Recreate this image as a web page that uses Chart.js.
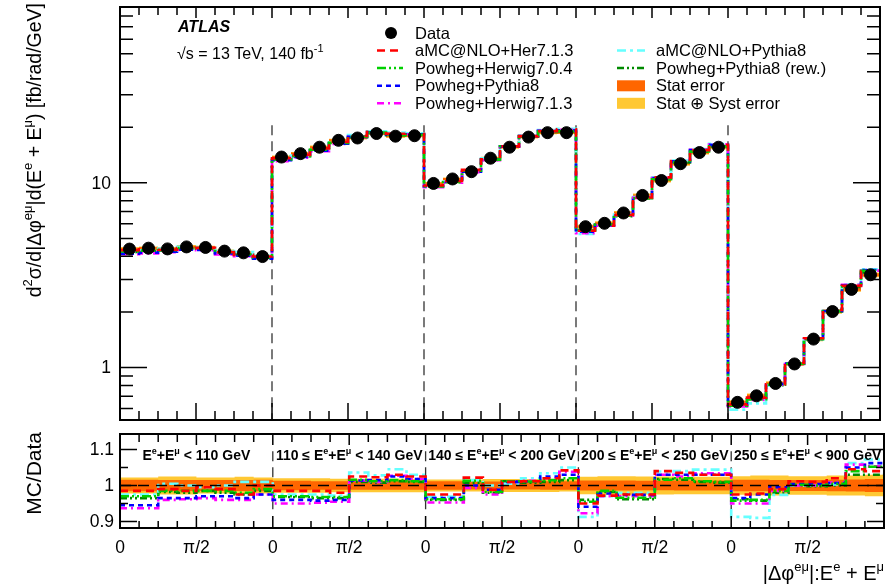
<!DOCTYPE html>
<html>
<head>
<meta charset="utf-8">
<script src="https://cdn.jsdelivr.net/npm/chart.js@4.4.1/dist/chart.umd.min.js"></script>
<style>
  body { margin: 0; background: #fff; }
  #wrap { position: relative; width: 887px; height: 586px; }
  #main { position: absolute; left: 0; top: 0; }
  #ratio { position: absolute; left: 0; top: 430px; }
</style>
</head>
<body>
<div id="wrap">
  <canvas id="main" width="887" height="430"></canvas>
  <canvas id="ratio" width="887" height="156"></canvas>
</div>
<script>
// slices in Ee+Emu, 8 |dphi| bins (0..pi) in each
var energyLow  = [null, 110, 140, 200, 250];
var energyHigh = [110, 140, 200, 250, 900];
var binsPerSlice = 8;
var phiTickLabels = ["0", "π/2"];
var mainYLabels = [1, 10];
var ratioYLabels = [0.9, 1, 1.1];

// measured cross section [fb/rad/GeV]
var dataXsec = [
  4.38, 4.43, 4.39, 4.50, 4.47, 4.27, 4.18, 3.99,
  13.8, 14.4, 15.6, 17.0, 17.5, 18.5, 17.9, 18.0,
  9.93, 10.5, 11.5, 13.6, 15.6, 17.7, 18.7, 18.7,
  5.79, 6.04, 6.87, 8.55, 10.3, 12.7, 14.6, 15.6,
  0.648, 0.703, 0.820, 1.046, 1.426, 2.01, 2.65, 3.18
];
// relative uncertainties
var statErr = [
  0.016, 0.016, 0.015, 0.015, 0.015, 0.015, 0.015, 0.016,
  0.013, 0.013, 0.012, 0.012, 0.012, 0.012, 0.012, 0.012,
  0.012, 0.012, 0.011, 0.011, 0.011, 0.011, 0.012, 0.012,
  0.014, 0.014, 0.014, 0.013, 0.013, 0.014, 0.014, 0.014,
  0.016, 0.016, 0.015, 0.015, 0.015, 0.016, 0.017, 0.018
];
var totErr = [
  0.022, 0.022, 0.025, 0.025, 0.022, 0.022, 0.024, 0.022,
  0.020, 0.020, 0.020, 0.019, 0.019, 0.019, 0.019, 0.019,
  0.017, 0.017, 0.017, 0.018, 0.018, 0.018, 0.018, 0.017,
  0.024, 0.026, 0.026, 0.025, 0.025, 0.024, 0.024, 0.024,
  0.026, 0.028, 0.028, 0.026, 0.026, 0.028, 0.028, 0.030
];

// MC / Data
var ratioAmcHer713 = [
  0.985, 0.985, 0.990, 0.985, 0.995, 0.990, 0.975, 1.000,
  0.985, 0.985, 0.985, 0.980, 1.025, 1.023, 1.030, 1.025,
  0.975, 0.975, 1.022, 0.988, 1.010, 1.012, 1.020, 1.042,
  0.950, 0.972, 0.975, 0.975, 1.040, 1.035, 1.030, 1.030,
  0.975, 0.978, 0.990, 1.012, 1.010, 1.020, 1.045, 1.040
];
var ratioPowHer704 = [
  0.970, 0.970, 0.985, 0.985, 0.985, 0.985, 0.980, 0.990,
  0.970, 0.970, 0.968, 0.968, 1.016, 1.012, 1.015, 1.012,
  0.962, 0.962, 1.013, 0.982, 1.012, 1.011, 1.015, 1.020,
  0.955, 0.985, 0.966, 0.966, 1.016, 1.020, 1.012, 1.010,
  0.958, 0.960, 0.985, 1.002, 1.000, 1.005, 1.040, 1.052
];
var ratioPowPy8 = [
  0.945, 0.945, 0.965, 0.965, 0.970, 0.970, 0.965, 0.975,
  0.960, 0.960, 0.958, 0.960, 1.014, 1.015, 1.025, 1.018,
  0.965, 0.965, 1.000, 0.988, 1.010, 1.012, 1.025, 1.030,
  0.941, 0.978, 0.974, 0.974, 1.030, 1.030, 1.030, 1.030,
  0.965, 0.975, 0.995, 1.004, 1.004, 1.007, 1.050, 1.062
];
var ratioPowHer713 = [
  0.937, 0.937, 0.960, 0.962, 0.965, 0.960, 0.960, 0.975,
  0.950, 0.950, 0.952, 0.955, 1.014, 1.010, 1.027, 1.018,
  0.953, 0.953, 0.993, 0.975, 1.010, 1.013, 1.020, 1.038,
  0.923, 0.970, 0.970, 0.970, 1.030, 1.025, 1.034, 1.034,
  0.950, 0.950, 0.985, 1.000, 1.000, 1.008, 1.058, 1.053
];
var ratioAmcPy8 = [
  0.975, 0.975, 1.005, 1.000, 0.995, 1.000, 1.010, 1.010,
  0.975, 0.975, 0.975, 0.972, 1.036, 1.028, 1.045, 1.030,
  0.969, 0.969, 1.015, 1.000, 1.005, 1.020, 1.034, 1.050,
  0.913, 0.970, 0.980, 0.980, 1.039, 1.040, 1.044, 1.044,
  0.913, 0.910, 0.974, 1.000, 1.000, 1.003, 1.062, 1.072
];
var ratioPowPy8Rew = [
  0.965, 0.965, 0.982, 0.980, 0.985, 0.980, 0.975, 0.985,
  0.968, 0.968, 0.965, 0.965, 1.010, 1.008, 1.012, 1.010,
  0.960, 0.960, 1.008, 0.980, 1.012, 1.008, 1.010, 1.015,
  0.960, 0.982, 0.962, 0.962, 1.018, 1.016, 1.010, 1.008,
  0.962, 0.958, 0.980, 1.000, 0.998, 1.000, 1.030, 1.030
];

var FONT = '"Liberation Sans", Arial, Helvetica, sans-serif';
var nBins = dataXsec.length;

var models = [
  { label: "aMC@NLO+Her7.1.3",      ratio: ratioAmcHer713, color: "#ff0000", dash: [8, 5] },
  { label: "Powheg+Herwig7.0.4",    ratio: ratioPowHer704, color: "#00d000", dash: [9, 3, 2, 3, 2, 3] },
  { label: "Powheg+Pythia8",        ratio: ratioPowPy8,    color: "#0000ff", dash: [5, 4] },
  { label: "Powheg+Herwig7.1.3",    ratio: ratioPowHer713, color: "#ff00ff", dash: [7, 4, 2, 4] },
  { label: "aMC@NLO+Pythia8",       ratio: ratioAmcPy8,    color: "#66ffff", dash: [9, 4, 3, 4] },
  { label: "Powheg+Pythia8 (rew.)", ratio: ratioPowPy8Rew, color: "#008a00", dash: [7, 3, 2, 3, 2, 3] }
];
var statColor = "#ff6600", totColor = "#ffc833";

// histogram as step: two points per bin at its edges
function steps(vals) {
  var pts = [];
  for (var i = 0; i < vals.length; i++) {
    pts.push({ x: i, y: vals[i] });
    pts.push({ x: i + 1, y: vals[i] });
  }
  return pts;
}

function richParts(str) {
  var parts = [], re = /\^\{([^}]*)\}/g, last = 0, m;
  while ((m = re.exec(str))) {
    if (m.index > last) parts.push([str.slice(last, m.index), false]);
    parts.push([m[1], true]);
    last = re.lastIndex;
  }
  if (last < str.length) parts.push([str.slice(last), false]);
  return parts;
}

function drawRich(ctx, str, x, y, size, weight, align) {
  var parts = richParts(str), w = 0;
  var fnt = function(sup) { return weight + " " + (sup ? Math.round(size * 0.66) : size) + "px " + FONT; };
  parts.forEach(function(p) { ctx.font = fnt(p[1]); p.w = ctx.measureText(p[0]).width; w += p.w; });
  var cx = align === "right" ? x - w : (align === "center" ? x - w / 2 : x);
  ctx.textAlign = "left";
  ctx.textBaseline = "alphabetic";
  parts.forEach(function(p) {
    ctx.font = fnt(p[1]);
    ctx.fillText(p[0], cx, p[1] ? y - size * 0.45 : y);
    cx += p.w;
  });
}

// ROOT-like frame with ticks pointing inwards, plus y tick labels
function drawFrame(chart, cfg) {
  var ctx = chart.ctx, a = chart.chartArea, xs = chart.scales.x, ys = chart.scales.y;
  ctx.save();
  ctx.strokeStyle = "#000";
  ctx.lineWidth = 1.5;
  ctx.beginPath();
  for (var i = 0; i <= nBins; i++) {
    var px = xs.getPixelForValue(i);
    var big = i % 4 === 0;
    ctx.moveTo(px, a.bottom); ctx.lineTo(px, a.bottom - (big ? cfg.xMajor : cfg.xMinor));
    ctx.moveTo(px, a.top); ctx.lineTo(px, a.top + (big ? cfg.xTopMajor : cfg.xTopMinor));
  }
  cfg.yTicks.forEach(function(t) {
    var py = ys.getPixelForValue(t[0]);
    var L = t[1] ? cfg.yMajor : cfg.yMinor;
    ctx.moveTo(a.left, py); ctx.lineTo(a.left + L, py);
    ctx.moveTo(a.right, py); ctx.lineTo(a.right - L, py);
  });
  ctx.stroke();
  ctx.lineWidth = 2;
  ctx.strokeRect(a.left, a.top, a.right - a.left, a.bottom - a.top);
  ctx.fillStyle = "#000";
  ctx.font = "17.5px " + FONT;
  ctx.textAlign = "right";
  ctx.textBaseline = "middle";
  cfg.labels.forEach(function(v) {
    ctx.fillText(String(v), cfg.labelX, ys.getPixelForValue(v) + 1);
  });
  ctx.restore();
}

function drawSliceLines(chart, y0, y1) {
  var ctx = chart.ctx, xs = chart.scales.x, ys = chart.scales.y;
  ctx.save();
  ctx.strokeStyle = "#333";
  ctx.lineWidth = 1.3;
  ctx.setLineDash([10, 6]);
  for (var s = 1; s < energyHigh.length; s++) {
    var px = xs.getPixelForValue(s * binsPerSlice);
    ctx.beginPath();
    ctx.moveTo(px, ys.getPixelForValue(y1));
    ctx.lineTo(px, ys.getPixelForValue(y0));
    ctx.stroke();
  }
  ctx.restore();
}

var mainTicks = [];
[0.6, 0.7, 0.8, 0.9, 1, 2, 3, 4, 5, 6, 7, 8, 9, 10, 20, 30, 40, 50, 60, 70, 80].forEach(function(v) {
  mainTicks.push([v, v === 1 || v === 10]);
});

// ---------- upper panel ----------
var mainSets = [];
mainSets.push({
  label: "Data", type: "scatter",
  data: dataXsec.map(function(v, i) { return { x: i + 0.5, y: v }; }),
  pointRadius: 6, pointBackgroundColor: "#000", pointBorderColor: "#000", showLine: false
});
models.forEach(function(m) {
  mainSets.push({
    label: m.label,
    data: steps(dataXsec.map(function(v, i) { return v * m.ratio[i]; })),
    borderColor: m.color, borderWidth: 2.6, borderDash: m.dash,
    pointRadius: 0, fill: false, tension: 0
  });
});
mainSets.push({ label: "Stat error", data: steps(dataXsec.map(function(v, i) { return v * (1 + statErr[i]); })),
  borderWidth: 0, pointRadius: 0, backgroundColor: statColor, fill: "+1" });
mainSets.push({ label: "", data: steps(dataXsec.map(function(v, i) { return v * (1 - statErr[i]); })),
  borderWidth: 0, pointRadius: 0, fill: false });
mainSets.push({ label: "Stat ⊕ Syst error", data: steps(dataXsec.map(function(v, i) { return v * (1 + totErr[i]); })),
  borderWidth: 0, pointRadius: 0, backgroundColor: totColor, fill: "+1" });
mainSets.push({ label: "", data: steps(dataXsec.map(function(v, i) { return v * (1 - totErr[i]); })),
  borderWidth: 0, pointRadius: 0, fill: false });

var mainDecor = {
  id: "mainDecor",
  beforeDatasetsDraw: function(chart) { drawSliceLines(chart, 0.52, 20.5); },
  afterDraw: function(chart) {
    var ctx = chart.ctx;
    drawFrame(chart, { xMajor: 17, xMinor: 9, xTopMajor: 11, xTopMinor: 8, yMajor: 27, yMinor: 13,
      yTicks: mainTicks, labels: mainYLabels, labelX: 111 });
    ctx.save();
    ctx.fillStyle = "#000";
    drawRich(ctx, "ATLAS", 178, 31.5, 16, "italic bold", "left");
    drawRich(ctx, "√s = 13 TeV, 140 fb^{-1}", 177, 59, 16, "normal", "left");

    // legend
    var rows = [33, 50.5, 68, 85.8, 103.3];
    var c1 = { x0: 377, x1: 403, tx: 415 }, c2 = { x0: 617, x1: 645, tx: 656 };
    var items = [
      { col: c1, row: 0, kind: "dot", ds: mainSets[0] },
      { col: c1, row: 1, kind: "line", m: models[0] },
      { col: c1, row: 2, kind: "line", m: models[1] },
      { col: c1, row: 3, kind: "line", m: models[2] },
      { col: c1, row: 4, kind: "line", m: models[3] },
      { col: c2, row: 1, kind: "line", m: models[4] },
      { col: c2, row: 2, kind: "line", m: models[5] },
      { col: c2, row: 3, kind: "box", color: statColor, text: mainSets[7].label },
      { col: c2, row: 4, kind: "box", color: totColor, text: mainSets[9].label }
    ];
    items.forEach(function(it) {
      var y = rows[it.row], text;
      if (it.kind === "dot") {
        ctx.beginPath(); ctx.arc((it.col.x0 + it.col.x1) / 2 + 1, y, 6, 0, 2 * Math.PI); ctx.fill();
        text = it.ds.label;
      } else if (it.kind === "line") {
        ctx.save();
        ctx.strokeStyle = it.m.color; ctx.lineWidth = 2.6; ctx.setLineDash(it.m.dash);
        ctx.beginPath(); ctx.moveTo(it.col.x0, y); ctx.lineTo(it.col.x1, y); ctx.stroke();
        ctx.restore();
        text = it.m.label;
      } else {
        ctx.save(); ctx.fillStyle = it.color;
        ctx.fillRect(it.col.x0, y - 5.5, it.col.x1 - it.col.x0, 11);
        ctx.restore();
        text = it.text;
      }
      ctx.font = "16.5px " + FONT; ctx.textAlign = "left"; ctx.textBaseline = "middle";
      ctx.fillText(text, it.col.tx, y + 1);
    });

    // y title
    ctx.translate(41, 3);
    ctx.rotate(-Math.PI / 2);
    drawRich(ctx, "d^{2}σ/d|Δφ^{eμ}|d(E^{e} + E^{μ}) [fb/rad/GeV]", 0, 0, 19.5, "normal", "right");
    ctx.restore();
  }
};

new Chart(document.getElementById("main"), {
  type: "line",
  data: { datasets: mainSets },
  options: {
    responsive: false, animation: false, events: [],
    layout: { padding: { left: 0, right: 3, top: 5, bottom: 0 } },
    plugins: { legend: { display: false }, tooltip: { enabled: false } },
    scales: {
      x: {
        type: "linear", min: 0, max: nBins,
        grid: { display: false, drawTicks: false }, border: { display: false },
        ticks: { display: false },
        afterFit: function(s) { s.height = 10; }
      },
      y: {
        type: "logarithmic", min: 0.52, max: 89.6,
        grid: { display: false, drawTicks: false }, border: { display: false },
        ticks: { display: false },
        afterFit: function(s) { s.width = 120; }
      }
    }
  },
  plugins: [mainDecor]
});

// ---------- ratio panel ----------
var ratioSets = [];
models.forEach(function(m) {
  ratioSets.push({
    label: m.label, data: steps(m.ratio),
    borderColor: m.color, borderWidth: 2.6, borderDash: m.dash,
    pointRadius: 0, fill: false, tension: 0
  });
});
ratioSets.push({ label: "stat up", data: steps(statErr.map(function(e) { return 1 + e; })),
  borderWidth: 0, pointRadius: 0, backgroundColor: statColor, fill: "+1" });
ratioSets.push({ label: "stat down", data: steps(statErr.map(function(e) { return 1 - e; })),
  borderWidth: 0, pointRadius: 0, fill: false });
ratioSets.push({ label: "tot up", data: steps(totErr.map(function(e) { return 1 + e; })),
  borderWidth: 0, pointRadius: 0, backgroundColor: totColor, fill: "+1" });
ratioSets.push({ label: "tot down", data: steps(totErr.map(function(e) { return 1 - e; })),
  borderWidth: 0, pointRadius: 0, fill: false });

var ratioDecor = {
  id: "ratioDecor",
  beforeDatasetsDraw: function(chart) { drawSliceLines(chart, 0.925, 1.095); },
  afterDatasetsDraw: function(chart) {
    var ctx = chart.ctx, a = chart.chartArea, ys = chart.scales.y;
    ctx.save();
    ctx.strokeStyle = "#000"; ctx.lineWidth = 1.5; ctx.setLineDash([11, 7]);
    ctx.beginPath();
    ctx.moveTo(a.left, ys.getPixelForValue(1)); ctx.lineTo(a.right, ys.getPixelForValue(1));
    ctx.stroke();
    ctx.restore();
  },
  afterDraw: function(chart) {
    var ctx = chart.ctx, a = chart.chartArea, xs = chart.scales.x;
    drawFrame(chart, { xMajor: 12, xMinor: 7, xTopMajor: 11, xTopMinor: 8, yMajor: 17, yMinor: 8,
      yTicks: [[0.9, true], [0.95, false], [1, true], [1.05, false], [1.1, true]],
      labels: ratioYLabels, labelX: 114 });
    ctx.save();
    ctx.fillStyle = "#000";
    for (var s = 0; s < energyHigh.length; s++) {
      var lbl = (energyLow[s] !== null ? energyLow[s] + " ≤ " : "") + "E^{e}+E^{μ} < " + energyHigh[s] + " GeV";
      var cx = xs.getPixelForValue((s + 0.5) * binsPerSlice);
      drawRich(ctx, lbl, cx, a.top + 26, 14, "bold", "center");
    }
    drawRich(ctx, "|Δφ^{eμ}|:E^{e} + E^{μ}", 884, 150, 20, "normal", "right");
    ctx.translate(41, 2);
    ctx.rotate(-Math.PI / 2);
    drawRich(ctx, "MC/Data", 0, 0, 21, "normal", "right");
    ctx.restore();
  }
};

new Chart(document.getElementById("ratio"), {
  type: "line",
  data: { datasets: ratioSets },
  options: {
    responsive: false, animation: false, events: [],
    layout: { padding: { left: 0, right: 3, top: 4, bottom: 0 } },
    plugins: { legend: { display: false }, tooltip: { enabled: false } },
    scales: {
      x: {
        type: "linear", min: 0, max: nBins,
        grid: { display: false, drawTicks: false }, border: { display: false },
        afterBuildTicks: function(s) {
          var t = [];
          for (var v = 0; v < nBins; v += binsPerSlice / 2) t.push({ value: v });
          s.ticks = t;
        },
        ticks: { autoSkip: false, maxRotation: 0, padding: 10, color: "#000", font: { family: FONT, size: 17.5 },
          callback: function(v) { return phiTickLabels[(v / (binsPerSlice / 2)) % 2]; } },
        afterFit: function(s) { s.height = 58; }
      },
      y: {
        type: "linear", min: 0.882, max: 1.143,
        grid: { display: false, drawTicks: false }, border: { display: false },
        ticks: { display: false },
        afterFit: function(s) { s.width = 120; }
      }
    }
  },
  plugins: [ratioDecor]
});
</script>
</body>
</html>
